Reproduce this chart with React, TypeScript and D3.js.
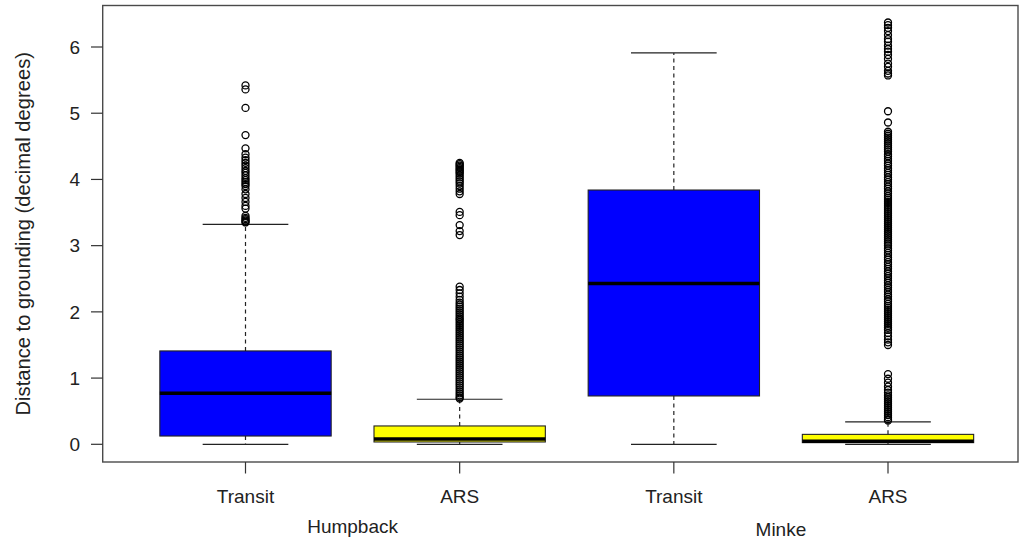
import React, { useEffect, useRef } from 'react';
import * as d3 from 'd3';

// box statistics (decimal degrees)
const groups = ['Humpback', 'Minke'];
const categories = ['Transit', 'ARS', 'Transit', 'ARS'];
const fills = ['#0000ff', '#ffff00', '#0000ff', '#ffff00'];
const lowerWhisker = [0.0, 0.0, 0.0, 0.0];
const q1 = [0.125, 0.035, 0.73, 0.025];
const median = [0.77, 0.08, 2.43, 0.045];
const q3 = [1.41, 0.277, 3.84, 0.15];
const upperWhisker = [3.32, 0.68, 5.91, 0.34];
const yTicks = [0, 1, 2, 3, 4, 5, 6];

const humpTransitOut = [
  5.42, 5.36, 5.08, 4.67, 4.47, 4.38, 4.33, 4.29, 4.25, 4.21, 4.17, 4.13, 4.1, 4.06, 4.02,
  3.99, 3.96, 3.93, 3.9, 3.85, 3.78, 3.72, 3.66, 3.6, 3.56, 3.45, 3.42, 3.4, 3.38, 3.36, 3.35,
];
const humpArsOut = [
  4.25, 4.23, 4.21, 4.19, 4.17, 4.15, 4.13, 4.11, 4.09, 4.06, 4.03, 4.0, 3.97, 3.94, 3.9,
  3.86, 3.82, 3.78, 3.51, 3.46, 3.31, 3.22, 3.16, 2.38, 2.33, 2.28, 2.23, 2.18, 2.14, 2.11,
  2.08, 2.05, 2.02, 1.99, 1.96, 1.93, 1.9, 1.88, 1.85, 1.82, 1.79, 1.76, 1.73, 1.7, 1.67,
  1.64, 1.61, 1.58, 1.55, 1.52, 1.49, 1.46, 1.43, 1.4, 1.37, 1.34, 1.31, 1.28, 1.25, 1.22,
  1.19, 1.16, 1.13, 1.1, 1.07, 1.04, 1.01, 0.98, 0.95, 0.92, 0.89, 0.86, 0.83, 0.8, 0.77,
  0.74, 0.71, 0.69,
];
const minkeTransitOut: number[] = [];
const minkeArsOut = [
  6.37, 6.33, 6.29, 6.24, 6.18, 6.12, 6.08, 6.02, 5.97, 5.93, 5.88, 5.82, 5.75, 5.7, 5.64,
  5.6, 5.57, 5.03, 4.86, 4.72, 4.69, 4.66, 4.63, 4.6, 4.57, 4.54, 4.51, 4.48, 4.45, 4.42,
  4.38, 4.35, 4.31, 4.28, 4.24, 4.21, 4.17, 4.14, 4.1, 4.07, 4.03, 4.0, 3.96, 3.93, 3.89,
  3.86, 3.82, 3.79, 3.75, 3.72, 3.69, 3.66, 3.63, 3.6, 3.57, 3.54, 3.51, 3.48, 3.45, 3.42,
  3.39, 3.36, 3.33, 3.3, 3.27, 3.24, 3.21, 3.18, 3.15, 3.12, 3.09, 3.06, 3.03, 3.0, 2.96,
  2.93, 2.89, 2.86, 2.82, 2.79, 2.75, 2.72, 2.68, 2.65, 2.61, 2.58, 2.54, 2.51, 2.47, 2.44,
  2.4, 2.37, 2.33, 2.3, 2.26, 2.23, 2.19, 2.16, 2.12, 2.09, 2.06, 2.03, 2.0, 1.97, 1.94,
  1.91, 1.88, 1.85, 1.82, 1.79, 1.76, 1.73, 1.68, 1.63, 1.58, 1.54, 1.5, 1.06, 0.99, 0.93,
  0.87, 0.82, 0.78, 0.74, 0.71, 0.68, 0.65, 0.62, 0.59, 0.56, 0.53, 0.5, 0.47, 0.44, 0.41,
  0.38, 0.36,
];
const outliers = [humpTransitOut, humpArsOut, minkeTransitOut, minkeArsOut];

const W = 1021;
const H = 543;
const FONT = '"Liberation Sans", Arial, sans-serif';

const App = () => {
  const svgRef = useRef<SVGSVGElement>(null);

  useEffect(() => {
    const svg = d3.select(svgRef.current);
    svg.selectAll('*').remove();

    const frame = { left: 102.7, right: 1018, top: 5.5, bottom: 462 };
    const x = d3.scaleLinear().domain([1, 4]).range([245.5, 888]);
    const y = d3.scaleLinear().domain([0, 6]).range([444.3, 47]);
    const halfBox = (x(2) - x(1)) * 0.4;
    const halfCap = halfBox / 2;

    const boxes = categories.map((c, i) => ({
      pos: i + 1,
      lo: lowerWhisker[i],
      q1: q1[i],
      med: median[i],
      q3: q3[i],
      hi: upperWhisker[i],
      fill: fills[i],
      out: outliers[i],
    }));

    const g = svg.append('g');

    boxes.forEach(b => {
      const cx = x(b.pos);
      const bg = g.append('g');
      // box
      bg.append('rect')
        .attr('x', cx - halfBox)
        .attr('y', y(b.q3))
        .attr('width', halfBox * 2)
        .attr('height', Math.max(y(b.q1) - y(b.q3), 0.5))
        .attr('fill', b.fill)
        .attr('stroke', '#222')
        .attr('stroke-width', 1.1);
      // median
      bg.append('line')
        .attr('x1', cx - halfBox)
        .attr('x2', cx + halfBox)
        .attr('y1', y(b.med))
        .attr('y2', y(b.med))
        .attr('stroke', '#000')
        .attr('stroke-width', 3.5);
      // whiskers
      [[b.q3, b.hi], [b.q1, b.lo]].forEach(([a, e]) => {
        bg.append('line')
          .attr('x1', cx).attr('x2', cx)
          .attr('y1', y(a)).attr('y2', y(e))
          .attr('stroke', '#222')
          .attr('stroke-width', 1.2)
          .attr('stroke-dasharray', '4,3.5');
        bg.append('line')
          .attr('x1', cx - halfCap).attr('x2', cx + halfCap)
          .attr('y1', y(e)).attr('y2', y(e))
          .attr('stroke', '#222')
          .attr('stroke-width', 1.2);
      });
      // outliers
      bg.selectAll('circle')
        .data(b.out)
        .join('circle')
        .attr('cx', cx)
        .attr('cy', d => y(d))
        .attr('r', 3.5)
        .attr('fill', 'none')
        .attr('stroke', '#000')
        .attr('stroke-width', 1.3);
    });

    // frame
    svg.append('rect')
      .attr('x', frame.left)
      .attr('y', frame.top)
      .attr('width', frame.right - frame.left)
      .attr('height', frame.bottom - frame.top)
      .attr('fill', 'none')
      .attr('stroke', '#4a4a4a')
      .attr('stroke-width', 1.4);

    // y axis
    const ya = svg.append('g');
    yTicks.forEach(t => {
      ya.append('line')
        .attr('x1', 91).attr('x2', frame.left)
        .attr('y1', y(t)).attr('y2', y(t))
        .attr('stroke', '#333').attr('stroke-width', 1.2);
      ya.append('text')
        .attr('x', 80)
        .attr('y', y(t))
        .attr('dy', '0.35em')
        .attr('text-anchor', 'end')
        .attr('font-family', FONT)
        .attr('font-size', 19)
        .attr('fill', '#222')
        .text(d3.format('d')(t));
    });
    svg.append('text')
      .attr('transform', `translate(30,${(frame.top + frame.bottom) / 2}) rotate(-90)`)
      .attr('text-anchor', 'middle')
      .attr('font-family', FONT)
      .attr('font-size', 20.2)
      .attr('fill', '#222')
      .text('Distance to grounding (decimal degrees)');

    // x axis
    const xa = svg.append('g');
    categories.forEach((c, i) => {
      xa.append('line')
        .attr('x1', x(i + 1)).attr('x2', x(i + 1))
        .attr('y1', frame.bottom).attr('y2', 473.5)
        .attr('stroke', '#333').attr('stroke-width', 1.2);
      xa.append('text')
        .attr('x', x(i + 1))
        .attr('y', 503)
        .attr('text-anchor', 'middle')
        .attr('font-family', FONT)
        .attr('font-size', 19)
        .attr('fill', '#222')
        .text(c);
    });
    const groupY = [533, 536];
    groups.forEach((gname, k) => {
      xa.append('text')
        .attr('x', (x(2 * k + 1) + x(2 * k + 2)) / 2)
        .attr('y', groupY[k])
        .attr('text-anchor', 'middle')
        .attr('font-family', FONT)
        .attr('font-size', 19)
        .attr('fill', '#222')
        .text(gname);
    });
  }, []);

  return (
    <svg
      ref={svgRef}
      width={W}
      height={H}
      style={{ position: 'absolute', left: 0, top: 0, background: '#fff' }}
    />
  );
};

export default App;
